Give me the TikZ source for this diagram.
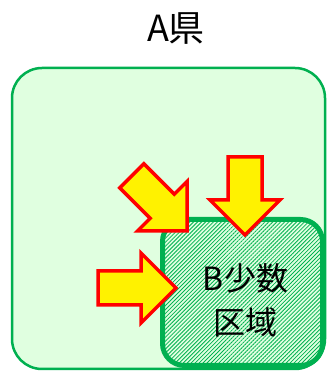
\documentclass[tikz,border=0pt]{standalone}
\usepackage{fontspec}
\newfontfamily\cjk{Noto Sans CJK JP}
\usepackage{xcolor}
\usetikzlibrary{patterns.meta}

\definecolor{areagreen}{HTML}{00B050}
\definecolor{areafill}{HTML}{E0FFE0}

\tikzset{
  region/.style={draw=areagreen, fill=areafill},
  fatarrow/.pic={
    \draw[draw=red, fill=yellow, line width=3.5pt, line join=miter]
      (-78,-17) -- (-35,-17) -- (-35,-35) -- (0,0) -- (-35,35) -- (-35,17) -- (-78,17) -- cycle;
  }
}

\begin{document}
\begin{tikzpicture}[x=1pt, y=1pt]
        \useasboundingbox (0,0) rectangle (327,372);
        \clip (0,0) rectangle (327,372);

        % Prefecture A
        \draw[region, line width=2.5pt, rounded corners=30pt] (12,3) rectangle (325,304);
        \node[font=\cjk\fontsize{36}{40}\selectfont] (pref) at (176,343) {A県};

        % Area B
        \draw[region, line width=5pt, rounded corners=22pt,
              postaction={pattern={Lines[angle=45, distance=2.8pt, line width=0.8pt]}, pattern color=areagreen}]
              (162.5,6.5) rectangle (322.5,152.5);
        \node[font=\cjk\fontsize{32}{44}\selectfont, align=center] (area) at (245.5,72) {B少数\\区域};

        % Arrows
        \pic (arrdown) at (245,137) [rotate=-90] {fatarrow};
        \pic (arrdiag) at (187,141) [rotate=-45] {fatarrow};
        \pic (arrright) at (176,84) {fatarrow};
      \end{tikzpicture}
\end{document}
